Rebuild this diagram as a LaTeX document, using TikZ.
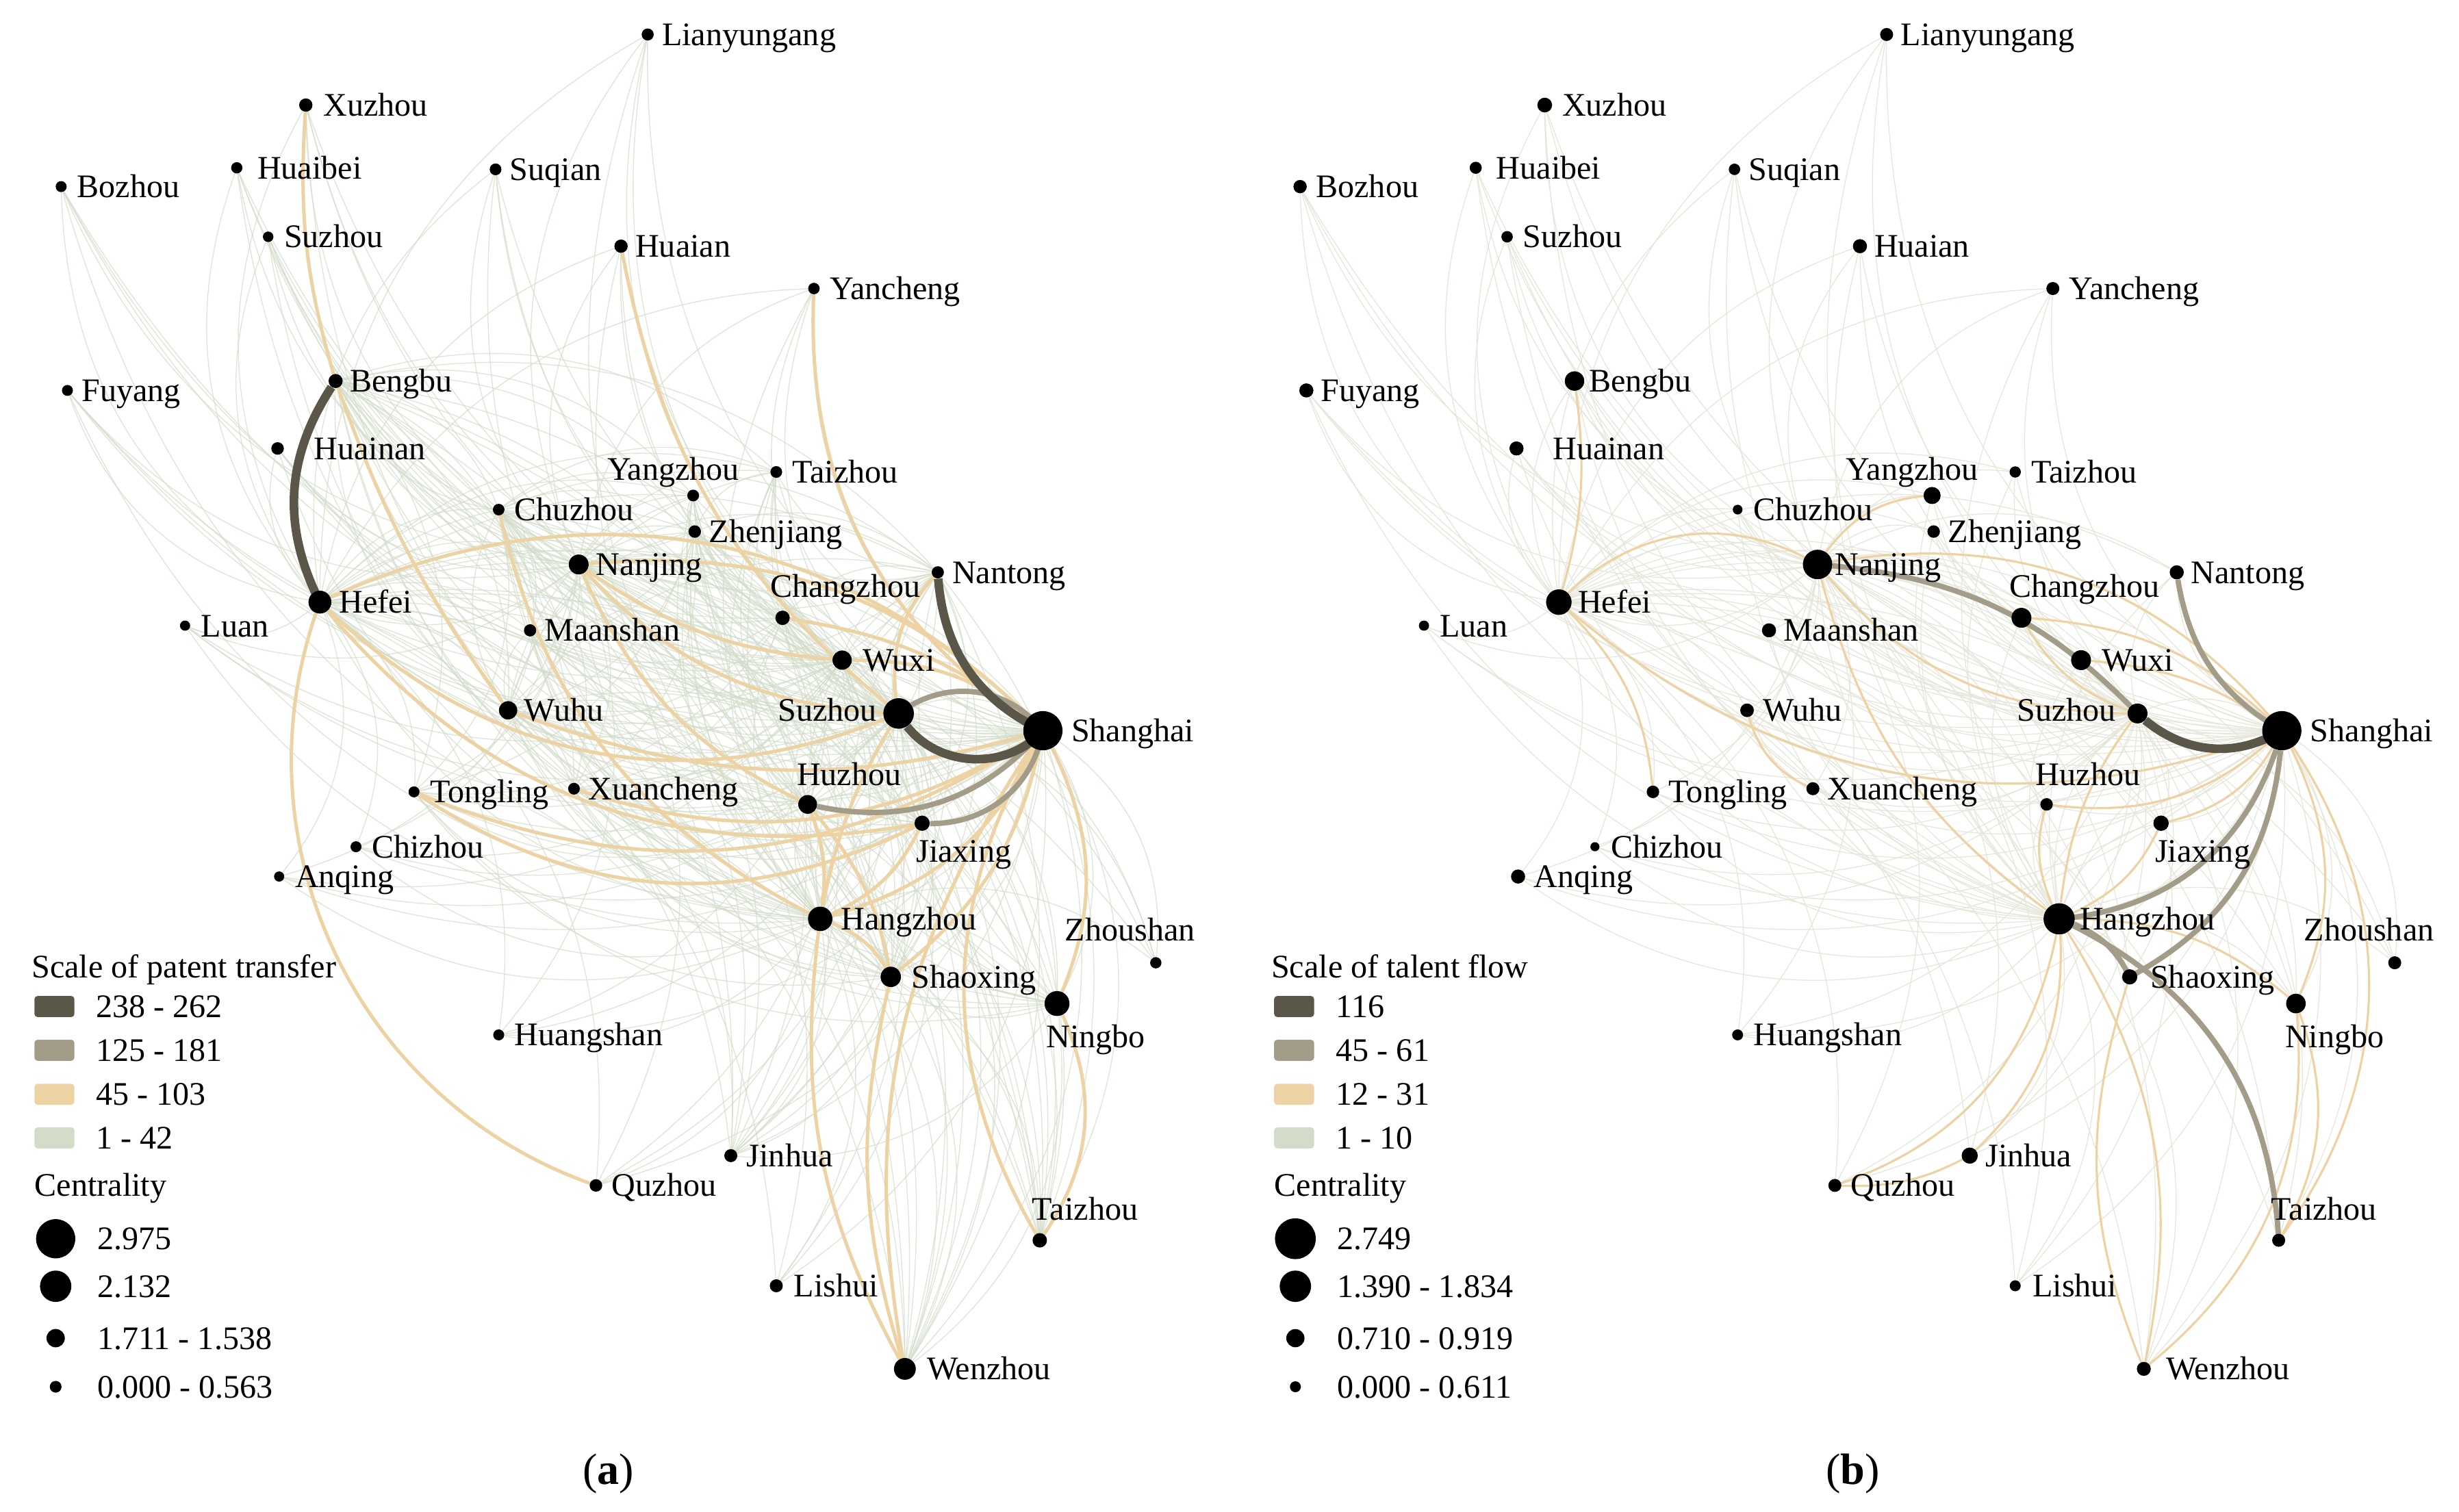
\documentclass[tikz,border=0pt]{standalone}
\usepackage{fontspec}
\setmainfont{Liberation Serif}
\usetikzlibrary{backgrounds}

\definecolor{flowdark}{HTML}{5A5648}
\definecolor{flowmid}{HTML}{A39C88}
\definecolor{flowtan}{HTML}{EDD3A3}
\definecolor{flowlight}{HTML}{D2DCC8}
\definecolor{flowpale}{HTML}{E6E7DA}

% name/x/y/dot size (a)/dot size (b)/label dx/label dy/label
\newcommand\citylist{%
Lianyungang/413/22/7.7/8.3/9/7/Lianyungang,
Xuzhou/195/67/8.5/9.4/11/7/Xuzhou,
Bozhou/39/119/7/8.5/10/7/Bozhou,
Huaibei/151/107/7.2/7.7/13/7/Huaibei,
Suqian/316/108/7.5/7.3/9/7/Suqian,
SuzhouAH/171/151/6.7/7.3/10/7/Suzhou,
Huaian/396/157/8.5/9/9/7/Huaian,
Yancheng/519/184/7.3/8.3/10/7/Yancheng,
Fuyang/43/249/7/9/9/7/Fuyang,
Bengbu/214/243/9/12.4/9/7/Bengbu,
Huainan/177/286/8/9/23/7/Huainan,
Chuzhou/318/325/7.4/6.2/10/7/Chuzhou,
Yangzhou/442/316/7.5/10.9/-55/-10/Yangzhou,
TaizhouJS/495/301/7.5/7.2/10/7/Taizhou,
Zhenjiang/443/339/8/8/9/7/Zhenjiang,
Nanjing/369/360/12.7/18.8/11/7/Nanjing,
Hefei/204/384/14.6/16.3/12/7/Hefei,
Luan/118/399/6.5/6.5/10/7/Luan,
Changzhou/499/394/9.2/12.7/-8/-13/Changzhou,
Nantong/598/365/7.8/9/9/7/Nantong,
Maanshan/338/402/7.8/9/9/7/Maanshan,
Wuxi/537/421/12.3/12.7/13/7/Wuxi,
Wuhu/324/453/11.7/8.7/10/7/Wuhu,
Suzhou/573/455/19.5/12.7/-77/5/Suzhou,
Shanghai/665/466/25/25/18/7/Shanghai,
Huzhou/515/513/12/8/-7/-12/Huzhou,
Tongling/264/505/7/8/10/7/Tongling,
Xuancheng/366/503/7.5/8.3/9/7/Xuancheng,
Jiaxing/588/525/9.7/9.8/-4/25/Jiaxing,
Chizhou/227/540/7/5.8/10/7/Chizhou,
Anqing/178/559/6.5/9/10/7/Anqing,
Hangzhou/523/586/15.6/19.9/13/7/Hangzhou,
Zhoushan/737/614/7.2/8.3/-58/-14/Zhoushan,
Shaoxing/568/623/13/9.7/13/7/Shaoxing,
Ningbo/674/640/15.9/12.5/-7/28/Ningbo,
Huangshan/318/660/7/7/10/7/Huangshan,
Jinhua/466/737/8.3/10.3/10/7/Jinhua,
Quzhou/380/756/8/8.3/10/7/Quzhou,
TaizhouZJ/663/791/9.2/8.3/-5/-13/Taizhou,
Lishui/495/820/8.3/7/11/7/Lishui,
Wenzhou/577/873/13.9/8.9/14/7/Wenzhou}

\begin{document}
\begin{tikzpicture}[x=1pt,y=-1pt,
  city/.style={circle,fill=black,inner sep=0pt},
  lbl/.style={font=\fontsize{21}{25}\selectfont,inner sep=0pt,anchor=base west},
  swatch/.style={rounded corners=2pt,inner sep=0pt,minimum width=25.5pt,minimum height=13.4pt},
  capt/.style={font=\fontsize{28}{32}\selectfont,inner sep=0pt},
  thinflow/.style={flowlight,line width=0.6pt,draw opacity=0.7},
  paleflow/.style={flowpale,line width=0.55pt},
  tanflow/.style={flowtan,line width=2.2pt},
  tanthin/.style={flowtan,line width=1.4pt},
  midflow/.style={flowmid,line width=3.4pt},
  darkflow/.style={flowdark,line width=5.5pt}]

\useasboundingbox (0,0) rectangle (1568,964);
\begin{pgfonlayer}{background}
\fill[white] (0,0) rectangle (1568,964);
\end{pgfonlayer}

% (a) patent transfer
\begin{scope}[name prefix=a-]
\foreach \n/\x/\y/\sa/\sb/\dx/\dy/\t in \citylist {
  \node[city,minimum size=\sa] (\n) at (\x,\y) {};
  \node[lbl] (\n-t) at ({\x+\dx},{\y+\dy}) {\t};
}
\begin{pgfonlayer}{background}
\foreach \u in {Shanghai,Suzhou,Nanjing,Hangzhou,Hefei,Wuxi}
  \foreach \v/\x/\y/\sa/\sb/\dx/\dy/\t in \citylist {
    \edef\hubname{\u}\edef\othname{\v}
    \ifx\hubname\othname\else\draw[thinflow] (\u) to[bend left=30] (\v);\fi
  }
\foreach \u in {Wuhu,Huzhou,Jiaxing,Shaoxing,Nantong,Bengbu,Ningbo,Changzhou,Zhenjiang,Chuzhou}
  \foreach \v in {Wuhu,Huzhou,Jiaxing,Shaoxing,Nantong,Bengbu,Wenzhou,Maanshan,Zhenjiang,Yangzhou,Chuzhou,Xuancheng,Tongling,Jinhua,TaizhouZJ,TaizhouJS} {
    \edef\hubname{\u}\edef\othname{\v}
    \ifx\hubname\othname\else\draw[thinflow] (\u) to[bend left=30] (\v);\fi
  }
% 45 - 103
\draw[tanflow] (Hefei) to[bend left=35] (Shanghai);
\draw[tanflow] (Hefei) to[bend right=33] (Suzhou);
\draw[tanflow] (Hefei) to[bend right=30] (Jiaxing);
\draw[tanflow] (Hefei) to[bend right=45] (Quzhou);
\draw[tanflow] (Tongling) to[bend right=30] (Jiaxing);
\draw[tanflow] (Tongling) to[bend right=28] (Shanghai);
\draw[tanflow] (Xuancheng) to[bend right=25] (Shanghai);
\draw[tanflow] (Wuhu) to[bend right=18] (Shanghai);
\draw[tanflow] (Nanjing) to[bend right=22] (Suzhou);
\draw[tanflow] (Nanjing) to[bend left=25] (Shanghai);
\draw[tanflow] (Nanjing) to[bend right=15] (Wuxi);
\draw[tanflow] (Nanjing) to[bend right=20] (Huzhou);
\draw[tanflow] (Chuzhou) to[bend right=25] (Hangzhou);
\draw[tanflow] (Bengbu) to[bend right=8] (Wuhu);
\draw[tanflow] (Xuzhou) to[bend right=10] (Bengbu);
\draw[tanflow] (Huaian) to[bend right=20] (Suzhou);
\draw[tanflow] (Yancheng) to[bend right=30] (Shanghai);
\draw[tanflow] (Changzhou) to[bend left=15] (Shanghai);
\draw[tanflow] (Wuxi) to[bend left=20] (Shanghai);
\draw[tanflow] (Suzhou) to[bend left=25] (Nantong);
\draw[tanflow] (Hangzhou) to[bend right=25] (Shanghai);
\draw[tanflow] (Hangzhou) to[bend left=10] (Suzhou);
\draw[tanflow] (Hangzhou) to[bend right=15] (Huzhou);
\draw[tanflow] (Hangzhou) to[bend right=20] (Jiaxing);
\draw[tanflow] (Hangzhou) to[bend left=20] (Shaoxing);
\draw[tanflow] (Huzhou) to[bend left=15] (Shaoxing);
\draw[tanflow] (Shaoxing) to[bend right=20] (Shanghai);
\draw[tanflow] (Shanghai) to[bend right=22] (Wenzhou);
\draw[tanflow] (Shanghai) to[bend right=30] (TaizhouZJ);
\draw[tanflow] (Shanghai) to[bend left=25] (Ningbo);
\draw[tanflow] (Ningbo) to[bend left=30] (TaizhouZJ);
\draw[tanflow] (Hangzhou) to[bend right=18] (Wenzhou);
\draw[tanflow] (Shaoxing) to[bend right=15] (Wenzhou);
% 125 - 181
\draw[midflow] (Suzhou) to[bend left=40] (Shanghai);
\draw[midflow] (Huzhou) to[bend right=30] (Shanghai);
\draw[midflow] (Jiaxing) to[bend right=40] (Shanghai);
% 238 - 262
\draw[darkflow] (Bengbu) to[bend right=30] (Hefei);
\draw[darkflow] (Nantong) to[bend right=30] (Shanghai);
\draw[darkflow] (Suzhou) to[bend right=50] (Shanghai);
\end{pgfonlayer}

% legend
\node[lbl] (ttl) at (20,623.6) {Scale of patent transfer};
\node[swatch,fill=flowdark] (sw1) at (34.7,641.9) {};
\node[swatch,fill=flowmid] (sw2) at (34.7,669.8) {};
\node[swatch,fill=flowtan] (sw3) at (34.7,697.9) {};
\node[swatch,fill=flowlight] (sw4) at (34.7,725.7) {};
\node[lbl] (sw1-t) at (61,648.9) {238 - 262};
\node[lbl] (sw2-t) at (61,676.8) {125 - 181};
\node[lbl] (sw3-t) at (61,704.9) {45 - 103};
\node[lbl] (sw4-t) at (61,732.7) {1 - 42};
\node[lbl] (cen) at (22,763) {Centrality};
\node[city,minimum size=25] (c1) at (35.5,790) {};
\node[city,minimum size=20] (c2) at (35.5,820.3) {};
\node[city,minimum size=11.7] (c3) at (35.5,853.4) {};
\node[city,minimum size=7.5] (c4) at (35.5,884.4) {};
\node[lbl] (c1-t) at (62,797) {2.975};
\node[lbl] (c2-t) at (62,827.3) {2.132};
\node[lbl] (c3-t) at (62,860.4) {1.711 - 1.538};
\node[lbl] (c4-t) at (62,891.4) {0.000 - 0.563};
\node[capt] (cap) at (388,940) {(\textbf{a})};
\end{scope}

% (b) talent flow
\begin{scope}[name prefix=b-,shift={(790,0)}]
\foreach \n/\x/\y/\sa/\sb/\dx/\dy/\t in \citylist {
  \node[city,minimum size=\sb] (\n) at (\x,\y) {};
  \node[lbl] (\n-t) at ({\x+\dx},{\y+\dy}) {\t};
}
\begin{pgfonlayer}{background}
\foreach \u in {Shanghai,Nanjing,Hangzhou,Hefei,Suzhou}
  \foreach \v/\x/\y/\sa/\sb/\dx/\dy/\t in \citylist {
    \edef\hubname{\u}\edef\othname{\v}
    \ifx\hubname\othname\else\draw[paleflow] (\u) to[bend left=30] (\v);\fi
  }
% 12 - 31
\draw[tanthin] (Hefei) to[bend left=37] (Nanjing);
\draw[tanthin] (Nanjing) to[bend left=30] (Shanghai);
\draw[tanthin] (Nanjing) to[bend left=25] (Yangzhou);
\draw[tanthin] (Nanjing) to[bend right=20] (Hangzhou);
\draw[tanthin] (Hefei) to[bend right=30] (Shanghai);
\draw[tanthin] (Hefei) to[bend left=20] (Tongling);
\draw[tanthin] (Bengbu) to[bend left=12] (Hefei);
\draw[tanthin] (Wuhu) to[bend right=25] (Xuancheng);
\draw[tanthin] (Suzhou) to[bend left=25] (Nanjing);
\draw[tanthin] (Changzhou) to[bend left=20] (Shanghai);
\draw[tanthin] (Wuxi) to[bend left=15] (Shanghai);
\draw[tanthin] (Changzhou) to[bend right=20] (Suzhou);
\draw[tanthin] (Huzhou) to[bend right=25] (Shanghai);
\draw[tanthin] (Jiaxing) to[bend right=25] (Shanghai);
\draw[tanthin] (Hangzhou) to[bend left=15] (Suzhou);
\draw[tanthin] (Hangzhou) to[bend left=20] (Huzhou);
\draw[tanthin] (Hangzhou) to[bend right=20] (Jiaxing);
\draw[tanthin] (Hangzhou) to[bend left=25] (Jinhua);
\draw[tanthin] (Hangzhou) to[bend left=30] (Quzhou);
\draw[tanthin] (Quzhou) to[bend right=15] (Jinhua);
\draw[tanthin] (Shaoxing) to[bend right=20] (Wenzhou);
\draw[tanthin] (Hangzhou) to[bend left=22] (Wenzhou);
\draw[tanthin] (Ningbo) to[bend left=28] (Wenzhou);
\draw[tanthin] (Shanghai) to[bend left=35] (TaizhouZJ);
\draw[tanthin] (Shanghai) to[bend left=25] (Ningbo);
\draw[tanthin] (Ningbo) to[bend left=25] (TaizhouZJ);
\draw[tanthin] (Hangzhou) to[bend left=20] (Ningbo);
% 45 - 61
\draw[midflow] (Nanjing) to[bend left=20] (Suzhou);
\draw[midflow] (Nantong) to[bend right=25] (Shanghai);
\draw[midflow] (Shanghai) to[bend left=33] (Hangzhou);
\draw[midflow] (Shanghai) to[bend left=28] (Shaoxing);
\draw[midflow] (Hangzhou) to[bend left=20] (Shaoxing);
\draw[midflow] (Hangzhou) to[bend left=30] (TaizhouZJ);
% 116
\draw[darkflow] (Suzhou) to[bend right=35] (Shanghai);
\end{pgfonlayer}

% legend
\node[lbl] (ttl) at (20.5,623.6) {Scale of talent flow};
\node[swatch,fill=flowdark] (sw1) at (35.2,641.9) {};
\node[swatch,fill=flowmid] (sw2) at (35.2,669.8) {};
\node[swatch,fill=flowtan] (sw3) at (35.2,697.9) {};
\node[swatch,fill=flowlight] (sw4) at (35.2,725.7) {};
\node[lbl] (sw1-t) at (61.8,648.9) {116};
\node[lbl] (sw2-t) at (61.8,676.8) {45 - 61};
\node[lbl] (sw3-t) at (61.8,704.9) {12 - 31};
\node[lbl] (sw4-t) at (61.8,732.7) {1 - 10};
\node[lbl] (cen) at (22.5,763) {Centrality};
\node[city,minimum size=26] (c1) at (36,790) {};
\node[city,minimum size=20] (c2) at (36,820.3) {};
\node[city,minimum size=11.6] (c3) at (36,853.4) {};
\node[city,minimum size=7] (c4) at (36,884.4) {};
\node[lbl] (c1-t) at (62.6,797) {2.749};
\node[lbl] (c2-t) at (62.6,827.3) {1.390 - 1.834};
\node[lbl] (c3-t) at (62.6,860.4) {0.710 - 0.919};
\node[lbl] (c4-t) at (62.6,891.4) {0.000 - 0.611};
\node[capt] (cap) at (391.5,940) {(\textbf{b})};
\end{scope}
\end{tikzpicture}
\end{document}
